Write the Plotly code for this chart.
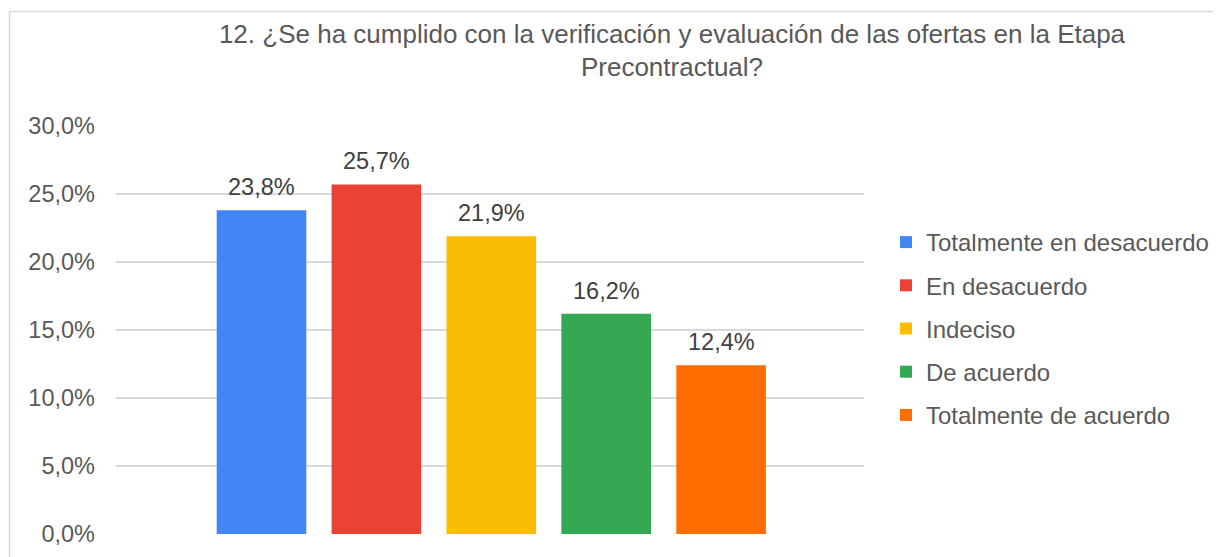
import plotly.graph_objects as go

categories = ["Totalmente en desacuerdo", "En desacuerdo", "Indeciso", "De acuerdo", "Totalmente de acuerdo"]
values = [23.8, 25.7, 21.9, 16.2, 12.4]
colors = ["#4285F4", "#EA4335", "#FBBC04", "#34A853", "#FF6D01"]
tick_vals = [0, 5, 10, 15, 20, 25, 30]
tick_text = [f"{v:.1f}%".replace(".", ",") for v in tick_vals]
title_text = "12. ¿Se ha cumplido con la verificación y evaluación de las ofertas en la Etapa<br>Precontractual?"

OFF = 8  # default body margin of the html page
W, H = 1240, 565  # figure runs past the window edge, like the cropped original
# plot area in page pixels
L, R, T, B = 116, 864, 126, 534
pw, ph = R - L, B - T

def px_x(x):
    return (x - L) / pw

def px_y(y):
    return (B - y) / ph

FONT = "Liberation Sans, Arial, sans-serif"
GRAY = "#595959"
LABEL = "#404040"

fig = go.Figure()
for i, (name, v, c) in enumerate(zip(categories, values, colors)):
    fig.add_trace(go.Bar(
        x=[i], y=[v], name=name, width=0.78,
        marker=dict(color=c, line=dict(width=0)),
        legendgroup=f"g{i}", hoverinfo="skip",
    ))
    fig.add_annotation(
        x=i, y=v, xref="x", yref="y", text=f"{v:.1f}%".replace(".", ","),
        showarrow=False, yanchor="bottom", yshift=8,
        font=dict(size=23.5, color=LABEL, family=FONT),
    )

step = 114.9
fig.update_layout(
    width=W, height=H,
    margin=dict(l=L - OFF, r=W - (R - OFF), t=T - OFF, b=H - (B - OFF), pad=0),
    paper_bgcolor="white", plot_bgcolor="white",
    barmode="overlay",
    font=dict(family=FONT, size=23, color=GRAY),
    title=dict(text=title_text, x=px_x(672), xref="paper", xanchor="center",
               y=1 - (42.5 - OFF) / H, yanchor="middle", yref="container",
               font=dict(size=26, color=GRAY, family=FONT)),
    showlegend=True,
    legend=dict(x=px_x(886), xanchor="left", y=px_y(328.5), yanchor="middle",
                font=dict(size=24, color=GRAY, family=FONT),
                tracegroupgap=9, itemclick=False, bgcolor="rgba(0,0,0,0)"),
    shapes=[dict(type="rect", xref="paper", yref="paper",
                 x0=px_x(9.5), x1=px_x(1400), y0=px_y(700), y1=px_y(11.5),
                 line=dict(color="#d9d9d9", width=1.5), fillcolor="rgba(0,0,0,0)", layer="below")],
)
fig.update_xaxes(range=[(L - 261.5) / step, (R - 261.5) / step],
                 showticklabels=False, showgrid=False, zeroline=False, showline=False, ticks="")
fig.update_yaxes(range=[0, 30], tickvals=tick_vals, ticktext=tick_text,
                 showgrid=True, gridcolor="#d9d9d9", gridwidth=1.5, zeroline=False,
                 showline=False, ticks="", ticklabelstandoff=20,
                 tickfont=dict(size=23.5, color=GRAY, family=FONT))

fig.write_html("out.html")
